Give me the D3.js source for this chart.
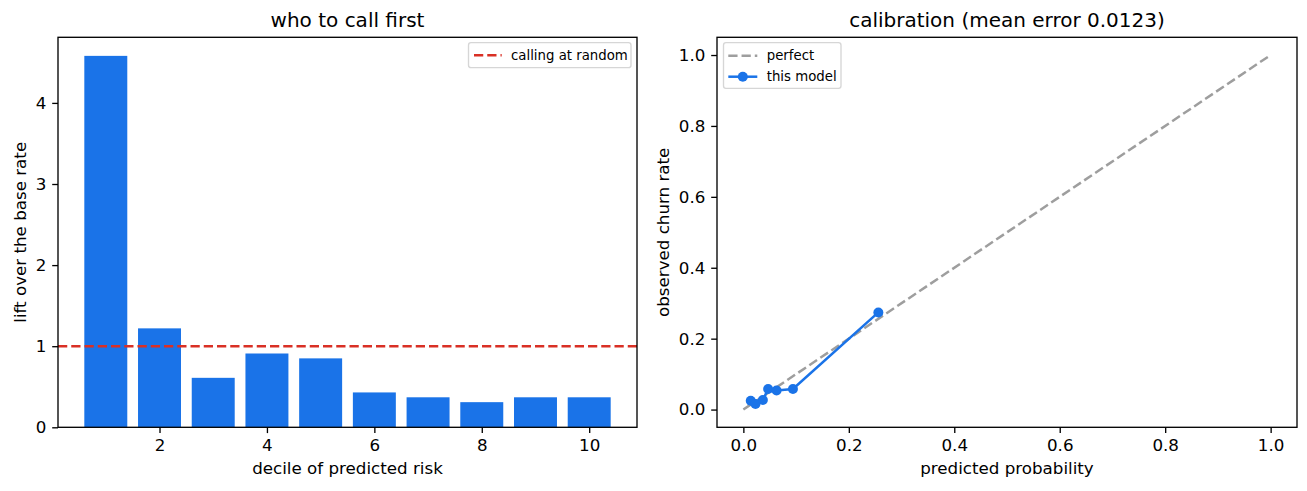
<!DOCTYPE html>
<html><head><meta charset="utf-8">
<script src="https://cdn.jsdelivr.net/npm/d3@7"></script>
<style>
html,body{margin:0;padding:0;background:#fff;}
svg text{font-family:"DejaVu Sans",sans-serif;fill:#000;}
</style></head>
<body><svg id="c" width="1307" height="491"></svg>
<script>
// ---- data ----
const deciles = [1,2,3,4,5,6,7,8,9,10];
const lift = [4.58,1.22,0.61,0.91,0.85,0.43,0.37,0.31,0.37,0.37];
const baseRate = 1;
const xTicksLeft = [2,4,6,8,10];
const yTicksLeft = [0,1,2,3,4];
const predProb = [0.014,0.023,0.037,0.047,0.063,0.094,0.256];
const observed = [0.025,0.016,0.027,0.058,0.054,0.058,0.274];
const perfectLine = [0,1];
const calTicks = [0,0.2,0.4,0.6,0.8,1.0];
const titles = ["who to call first","calibration (mean error 0.0123)"];

const BLUE="#1a73e8", RED="#d93025", GRAY="#9e9e9e";
const svg=d3.select("#c");
const TICK=16.7, LBL=16.7, TTL=20, LEG=13.3;
const TS=5.8, LW=2.5, AW=1.33, DASH="9.25,4";

function frame(g,w,h){
  g.append("rect").attr("x",0).attr("y",0).attr("width",w).attr("height",h)
   .attr("fill","none").attr("stroke","#000").attr("stroke-width",AW);
}
function styleAxis(sel){
  sel.select(".domain").remove();
  sel.selectAll(".tick line").attr("stroke","#000").attr("stroke-width",AW);
  sel.selectAll(".tick text").attr("font-size",TICK).attr("fill","#000").style("font-family","DejaVu Sans");
}

// ---- left panel ----
{
  const L=58,T=37.3,W=579,H=390;
  const g=svg.append("g").attr("transform",`translate(${L},${T})`);
  const x=d3.scaleLinear().domain([0.11,10.89]).range([0,W]);
  const y=d3.scaleLinear().domain([0,d3.max(lift)*1.05]).range([H,0]);
  g.selectAll("rect.bar").data(deciles).join("rect").attr("class","bar")
    .attr("x",d=>x(d-0.4)).attr("width",d=>x(d+0.4)-x(d-0.4))
    .attr("y",(d,i)=>y(lift[i])).attr("height",(d,i)=>y(0)-y(lift[i]))
    .attr("fill",BLUE);
  g.append("line").attr("x1",0).attr("x2",W).attr("y1",y(baseRate)).attr("y2",y(baseRate))
    .attr("stroke",RED).attr("stroke-width",LW).attr("stroke-dasharray",DASH);
  const xa=g.append("g").attr("transform",`translate(0,${H})`)
    .call(d3.axisBottom(x).tickValues(xTicksLeft).tickFormat(d3.format("d")).tickSize(TS).tickPadding(TS));
  styleAxis(xa);
  const ya=g.append("g").call(d3.axisLeft(y).tickValues(yTicksLeft).tickFormat(d3.format("d")).tickSize(TS).tickPadding(TS));
  styleAxis(ya);
  frame(g,W,H);
  svg.append("text").attr("x",L+W/2).attr("y",27).attr("text-anchor","middle").attr("font-size",TTL).text(titles[0]);
  svg.append("text").attr("x",L+W/2).attr("y",474).attr("text-anchor","middle").attr("font-size",LBL).text("decile of predicted risk");
  svg.append("text").attr("transform",`translate(26,${T+H/2}) rotate(-90)`).attr("text-anchor","middle").attr("font-size",LBL).text("lift over the base rate");
  // legend
  const lg=svg.append("g");
  lg.append("rect").attr("x",468.5).attr("y",42.7).attr("width",162.5).attr("height",25).attr("rx",2.5)
    .attr("fill","#fff").attr("fill-opacity",0.8).attr("stroke","#d6d6d6").attr("stroke-width",AW);
  lg.append("line").attr("x1",474).attr("x2",501.7).attr("y1",55.3).attr("y2",55.3)
    .attr("stroke",RED).attr("stroke-width",LW).attr("stroke-dasharray",DASH);
  lg.append("text").attr("x",511).attr("y",60).attr("font-size",LEG).text("calling at random");
}

// ---- right panel ----
{
  const L=717,T=37.3,W=580,H=390;
  const g=svg.append("g").attr("transform",`translate(${L},${T})`);
  const x=d3.scaleLinear().domain([-0.05,1.05]).range([0,W]);
  const y=d3.scaleLinear().domain([-0.05,1.05]).range([H,0]);
  g.append("line").attr("x1",x(perfectLine[0])).attr("y1",y(perfectLine[0]))
    .attr("x2",x(perfectLine[1])).attr("y2",y(perfectLine[1]))
    .attr("stroke",GRAY).attr("stroke-width",LW).attr("stroke-dasharray",DASH);
  const pts=predProb.map((p,i)=>[p,observed[i]]);
  g.append("path").attr("d",d3.line().x(d=>x(d[0])).y(d=>y(d[1]))(pts))
    .attr("fill","none").attr("stroke",BLUE).attr("stroke-width",LW);
  g.selectAll("circle").data(pts).join("circle").attr("cx",d=>x(d[0])).attr("cy",d=>y(d[1]))
    .attr("r",5).attr("fill",BLUE);
  const fmt=d3.format(".1f");
  const xa=g.append("g").attr("transform",`translate(0,${H})`)
    .call(d3.axisBottom(x).tickValues(calTicks).tickFormat(fmt).tickSize(TS).tickPadding(TS));
  styleAxis(xa);
  const ya=g.append("g").call(d3.axisLeft(y).tickValues(calTicks).tickFormat(fmt).tickSize(TS).tickPadding(TS));
  styleAxis(ya);
  frame(g,W,H);
  svg.append("text").attr("x",L+W/2).attr("y",27).attr("text-anchor","middle").attr("font-size",TTL).text(titles[1]);
  svg.append("text").attr("x",L+W/2).attr("y",474).attr("text-anchor","middle").attr("font-size",LBL).text("predicted probability");
  svg.append("text").attr("transform",`translate(669,${T+H/2}) rotate(-90)`).attr("text-anchor","middle").attr("font-size",LBL).text("observed churn rate");
  const lg=svg.append("g");
  lg.append("rect").attr("x",723.5).attr("y",42.7).attr("width",117.5).attr("height",45.6).attr("rx",2.5)
    .attr("fill","#fff").attr("fill-opacity",0.8).attr("stroke","#d6d6d6").attr("stroke-width",AW);
  lg.append("line").attr("x1",728.3).attr("x2",757.3).attr("y1",55.7).attr("y2",55.7)
    .attr("stroke",GRAY).attr("stroke-width",LW).attr("stroke-dasharray",DASH);
  lg.append("text").attr("x",766.7).attr("y",60).attr("font-size",LEG).text("perfect");
  lg.append("line").attr("x1",728.3).attr("x2",757.3).attr("y1",76.7).attr("y2",76.7)
    .attr("stroke",BLUE).attr("stroke-width",LW);
  lg.append("circle").attr("cx",742.8).attr("cy",76.7).attr("r",5).attr("fill",BLUE);
  lg.append("text").attr("x",766.7).attr("y",81).attr("font-size",LEG).text("this model");
}
</script></body></html>
